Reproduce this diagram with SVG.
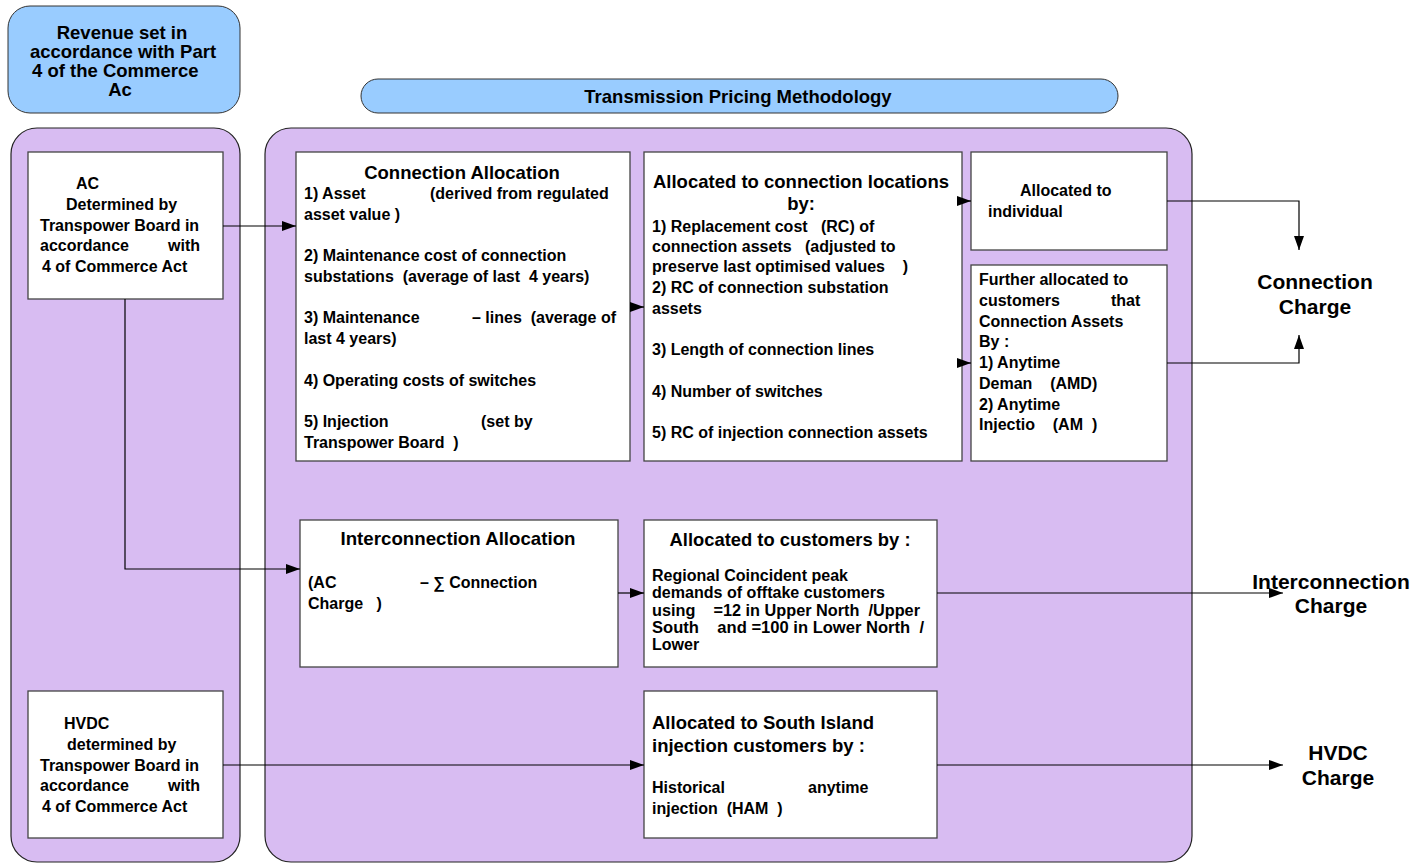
<svg xmlns="http://www.w3.org/2000/svg" width="1417" height="863" viewBox="0 0 1417 863">
<defs>
<style>
text{font-family:"Liberation Sans",Arial,sans-serif;font-weight:bold;fill:#000;white-space:pre}
.t{font-size:16px}
.h{font-size:18.5px}
.big{font-size:21px;text-anchor:middle}
.mid{text-anchor:middle}
.blue{fill:#99CCFF;stroke:#333;stroke-width:1}
.panel{fill:#D8BCF2;stroke:#222;stroke-width:1.2}
.box{fill:#fff;stroke:#444;stroke-width:1.3}
.ln{fill:none;stroke:#000;stroke-width:1.2}
</style>
<marker id="ah" viewBox="0 0 14 10" refX="14" refY="5" markerWidth="14" markerHeight="10" markerUnits="userSpaceOnUse" orient="auto">
<path d="M0,0 L14,5 L0,10 Z" fill="#000"/>
</marker>
</defs>

<g id="revenue">
<rect class="blue" x="8" y="6" width="232" height="107" rx="22"/>
<text class="h mid" x="122" y="39">Revenue set in</text>
<text class="h mid" x="123" y="58">accordance with Part</text>
<text class="h" x="32" y="77">4 of the Commerce</text>
<text class="h mid" x="120" y="96">Ac</text>
</g>

<g id="tpm">
<rect class="blue" x="361" y="79" width="757" height="34" rx="17"/>
<text class="h mid" x="738" y="103">Transmission Pricing Methodology</text>
</g>

<g id="panel-left">
<rect class="panel" x="11" y="128" width="229" height="734" rx="26"/>
</g>
<g id="panel-right">
<rect class="panel" x="265" y="128" width="927" height="734" rx="26"/>
</g>

<g id="ac-box">
<rect class="box" x="28" y="152" width="195" height="147"/>
<text class="t" x="76" y="189">AC</text>
<text class="t" x="66" y="210">Determined by</text>
<text class="t" x="40" y="231">Transpower Board in</text>
<text class="t"><tspan x="40" y="251">accordance</tspan><tspan x="168" y="251">with</tspan></text>
<text class="t" x="42" y="272">4 of Commerce Act</text>
</g>

<g id="hvdc-box">
<rect class="box" x="28" y="691" width="195" height="147"/>
<text class="t" x="64" y="729">HVDC</text>
<text class="t" x="67" y="750">determined by</text>
<text class="t" x="40" y="771">Transpower Board in</text>
<text class="t"><tspan x="40" y="791">accordance</tspan><tspan x="168" y="791">with</tspan></text>
<text class="t" x="42" y="812">4 of Commerce Act</text>
</g>

<g id="conn-alloc">
<rect class="box" x="296" y="152" width="334" height="309"/>
<text class="h mid" x="462" y="179">Connection Allocation</text>
<text class="t"><tspan x="304" y="199">1) Asset</tspan><tspan x="430" y="199">(derived from regulated</tspan></text>
<text class="t" x="304" y="220">asset value )</text>
<text class="t" x="304" y="261">2) Maintenance cost of connection</text>
<text class="t" x="304" y="282">substations  (average of last  4 years)</text>
<text class="t"><tspan x="304" y="323">3) Maintenance</tspan><tspan x="472" y="323">– lines  (average of</tspan></text>
<text class="t" x="304" y="344">last 4 years)</text>
<text class="t" x="304" y="386">4) Operating costs of switches</text>
<text class="t"><tspan x="304" y="427">5) Injection</tspan><tspan x="481" y="427">(set by</tspan></text>
<text class="t" x="304" y="448">Transpower Board  )</text>
</g>

<g id="conn-locations">
<rect class="box" x="644" y="152" width="318" height="309"/>
<text class="h mid" x="801" y="188">Allocated to connection locations</text>
<text class="h mid" x="801" y="210">by:</text>
<text class="t" x="652" y="232">1) Replacement cost   (RC) of</text>
<text class="t" x="652" y="252">connection assets   (adjusted to</text>
<text class="t" x="652" y="272">preserve last optimised values    )</text>
<text class="t" x="652" y="293">2) RC of connection substation</text>
<text class="t" x="652" y="314">assets</text>
<text class="t" x="652" y="355">3) Length of connection lines</text>
<text class="t" x="652" y="397">4) Number of switches</text>
<text class="t" x="652" y="438">5) RC of injection connection assets</text>
</g>

<g id="individual">
<rect class="box" x="971" y="152" width="196" height="98"/>
<text class="t" x="1020" y="196">Allocated to</text>
<text class="t" x="988" y="217">individual</text>
</g>

<g id="further">
<rect class="box" x="971" y="265" width="196" height="196"/>
<text class="t" x="979" y="285">Further allocated to</text>
<text class="t"><tspan x="979" y="306">customers</tspan><tspan x="1111" y="306">that</tspan></text>
<text class="t" x="979" y="327">Connection Assets</text>
<text class="t" x="979" y="347">By :</text>
<text class="t" x="979" y="368">1) Anytime</text>
<text class="t" x="979" y="389">Deman    (AMD)</text>
<text class="t" x="979" y="410">2) Anytime</text>
<text class="t" x="979" y="430">Injectio    (AM  )</text>
</g>

<g id="inter-alloc">
<rect class="box" x="300" y="520" width="318" height="147"/>
<text class="h mid" x="458" y="545" textLength="235" lengthAdjust="spacingAndGlyphs">Interconnection Allocation</text>
<text class="t"><tspan x="308" y="588">(AC</tspan><tspan x="420" y="588">– ∑ Connection</tspan></text>
<text class="t" x="308" y="609">Charge   )</text>
</g>

<g id="customers">
<rect class="box" x="644" y="520" width="293" height="147"/>
<text class="h mid" x="790" y="546" textLength="241" lengthAdjust="spacingAndGlyphs">Allocated to customers by :</text>
<text class="t" x="652" y="581" textLength="196" lengthAdjust="spacingAndGlyphs">Regional Coincident peak</text>
<text class="t" x="652" y="598" textLength="233" lengthAdjust="spacingAndGlyphs">demands of offtake customers</text>
<text class="t" x="652" y="616" textLength="268" lengthAdjust="spacingAndGlyphs">using    =12 in Upper North  /Upper</text>
<text class="t" x="652" y="633" textLength="272" lengthAdjust="spacingAndGlyphs">South    and =100 in Lower North  /</text>
<text class="t" x="652" y="650">Lower</text>
</g>

<g id="south-island">
<rect class="box" x="644" y="691" width="293" height="147"/>
<text class="h" x="652" y="729">Allocated to South Island</text>
<text class="h" x="652" y="752">injection customers by :</text>
<text class="t"><tspan x="652" y="793">Historical</tspan><tspan x="808" y="793">anytime</tspan></text>
<text class="t" x="652" y="814">injection  (HAM  )</text>
</g>

<g id="connectors">
<line class="ln" x1="223" y1="226" x2="296" y2="226" marker-end="url(#ah)"/>
<polyline class="ln" points="125,299 125,569 300,569" marker-end="url(#ah)"/>
<line class="ln" x1="630" y1="307" x2="644" y2="307" marker-end="url(#ah)"/>
<line class="ln" x1="962" y1="201" x2="971" y2="201" marker-end="url(#ah)"/>
<line class="ln" x1="962" y1="363" x2="971" y2="363" marker-end="url(#ah)"/>
<polyline class="ln" points="1167,201 1299,201 1299,250" marker-end="url(#ah)"/>
<polyline class="ln" points="1167,363 1299,363 1299,335" marker-end="url(#ah)"/>
<line class="ln" x1="618" y1="593" x2="644" y2="593" marker-end="url(#ah)"/>
<line class="ln" x1="937" y1="593" x2="1283" y2="593" marker-end="url(#ah)"/>
<line class="ln" x1="223" y1="765" x2="644" y2="765" marker-end="url(#ah)"/>
<line class="ln" x1="937" y1="765" x2="1283" y2="765" marker-end="url(#ah)"/>
</g>

<g id="connection-charge">
<text class="big" x="1315" y="289">Connection</text>
<text class="big" x="1315" y="314">Charge</text>
</g>
<g id="interconnection-charge">
<text class="big" x="1331" y="589">Interconnection</text>
<text class="big" x="1331" y="613">Charge</text>
</g>
<g id="hvdc-charge">
<text class="big" x="1338" y="760">HVDC</text>
<text class="big" x="1338" y="785">Charge</text>
</g>
</svg>
